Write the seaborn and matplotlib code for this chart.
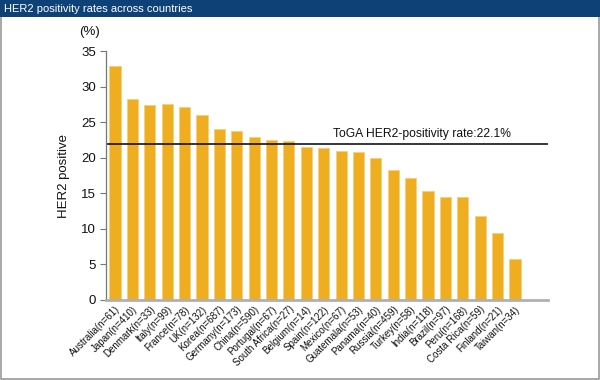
import matplotlib
matplotlib.use("Agg")
import matplotlib.pyplot as plt
import seaborn as sns
import pandas as pd
from matplotlib.patches import Rectangle

countries = ["Australia(n=61)", "Japan(n=410)", "Denmark(n=33)", "Italy(n=99)", "France(n=78)",
             "UK(n=132)", "Korea(n=687)", "Germany(n=173)", "China(n=590)", "Portugal(n=67)",
             "South Africa(n=27)", "Belgium(n=14)", "Spain(n=122)", "Mexico(n=67)",
             "Guatemala(n=53)", "Panama(n=40)", "Russia(n=459)", "Turkey(n=58)", "India(n=118)",
             "Brazil(n=97)", "Peru(n=168)", "Costa Rica(n=59)", "Finland(n=21)", "Taiwan(n=34)"]
rates = [32.9, 28.2, 27.4, 27.5, 27.1, 26.0, 24.1, 23.8, 22.9, 22.5, 22.3, 21.5, 21.4,
         20.9, 20.8, 19.9, 18.3, 17.2, 15.3, 14.5, 14.5, 11.8, 9.4, 5.8]
toga_rate = 21.9
toga_label = "ToGA HER2-positivity rate:22.1%"
yticks = [0, 5, 10, 15, 20, 25, 30, 35]

sns.set_theme(style="white")
plt.rcParams["font.family"] = ["Liberation Sans", "DejaVu Sans"]

df = pd.DataFrame({"country": countries, "rate": rates})

fig = plt.figure(figsize=(6, 3.8), dpi=100)
fig.patch.set_facecolor("white")
# outer frame and title banner
fig.patches.append(Rectangle((0.0015, 0.002), 0.997, 0.996, transform=fig.transFigure,
                             fill=False, edgecolor="#9a9a9a", linewidth=1.2, zorder=0))
fig.patches.append(Rectangle((0, 1 - 17 / 380), 1, 17 / 380, transform=fig.transFigure,
                             facecolor="#0e4277", edgecolor="none", zorder=1))
fig.text(4 / 600, 1 - 8.5 / 380, "HER2 positivity rates across countries", color="white",
         fontsize=8, va="center", ha="left")

ax = fig.add_axes([106 / 600, 1 - 300 / 380, (548 - 106) / 600, (300 - 51) / 380])
sns.barplot(data=df, x="country", y="rate", color="#efae20", saturation=1, width=0.64,
            ax=ax, edgecolor="#f6cf7a", linewidth=0.6)
ax.set_xlim(-0.52, 24.9)
ax.set_ylim(0, 35)
ax.set_yticks(yticks)
ax.set_yticklabels([str(v) for v in yticks], fontsize=9.5, color="#111111")
ax.tick_params(axis="y", length=4, width=0.8, color="#777777", left=True, pad=3)
ax.set_xticks(range(len(countries)))
ax.set_xticklabels(countries, rotation=45, ha="right", rotation_mode="anchor",
                   fontsize=7, color="#111111")
ax.tick_params(axis="x", length=0, pad=3)
for s in ["top", "right"]:
    ax.spines[s].set_visible(False)
ax.spines["left"].set_color("#777777")
ax.spines["left"].set_linewidth(0.9)
ax.spines["bottom"].set_color("#b0b0b0")
ax.spines["bottom"].set_linewidth(2)
ax.set_xlabel("")
ax.set_ylabel("HER2 positive", fontsize=9.5, labelpad=8, color="#111111")
ax.axhline(toga_rate, color="black", linewidth=1.1, xmin=0, xmax=1.0)
ax.text(17.66, toga_rate + 0.55, toga_label, ha="center", va="bottom", fontsize=8.7, color="#111111")
fig.text(90 / 600, 1 - 32 / 380, "(%)", ha="center", va="center", fontsize=9.5, color="#111111")

fig.savefig("out.png", dpi=100)
